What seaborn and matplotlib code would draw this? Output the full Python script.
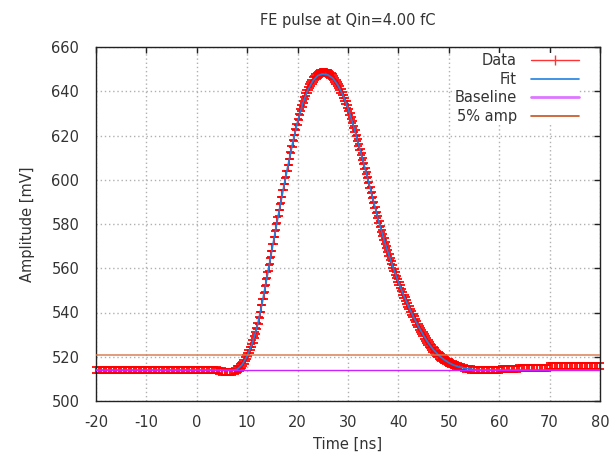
import numpy as np
import pandas as pd
import matplotlib
matplotlib.use("Agg")
import matplotlib.pyplot as plt
import seaborn as sns
from matplotlib.lines import Line2D

# ---------------- data ----------------
title = "FE pulse at Qin=4.00 fC"
x_label = "Time [ns]"
y_label = "Amplitude [mV]"
legend_labels = ["Data", "Fit", "Baseline", "5% amp"]
x_ticks = [-20, -10, 0, 10, 20, 30, 40, 50, 60, 70, 80]
y_ticks = [500, 520, 540, 560, 580, 600, 620, 640, 660]

# pre-pulse samples: -20 ns .. 7.5 ns every 0.5 ns
pre_t = np.arange(-20.0, 7.75, 0.5)
pre_v = [514.1, 514.1, 514.1, 514.1, 514.1, 514.1, 514.1, 514.1, 514.1, 514.1,
         514.1, 514.1, 514.1, 514.1, 514.1, 514.1, 514.1, 514.1, 514.1, 514.1,
         514.1, 514.1, 514.1, 514.1, 514.1, 514.1, 514.1, 514.1, 514.1, 514.1,
         514.1, 514.1, 514.1, 514.1, 514.1, 514.1, 514.1, 514.1, 514.1, 514.1,
         514.1, 514.1, 514.1, 514.1, 514.1, 514.1, 514.1, 514.1, 514.1,
         513.7, 513.3, 513.1, 513.1, 513.1, 513.2, 513.6]

# pulse samples: 8 ns .. 52 ns every 0.25 ns
pulse_t = np.arange(8.0, 52.1, 0.25)
pulse_v = [514.2, 514.6, 515.1, 515.7,
           516.4, 517.3, 518.3, 519.3,
           520.4, 521.7, 523.0, 524.5,
           526.0, 527.8, 529.7, 531.7,
           533.8, 536.4, 539.0, 541.8,
           544.6, 547.6, 550.6, 553.7,
           556.8, 560.0, 563.1, 566.3,
           569.4, 572.5, 575.6, 578.7,
           581.8, 584.8, 587.8, 590.8,
           593.8, 596.7, 599.6, 602.5,
           605.4, 608.2, 611.0, 613.7,
           616.4, 619.0, 621.5, 623.9,
           626.2, 628.4, 630.5, 632.5,
           634.4, 636.1, 637.7, 639.2,
           640.6, 641.8, 642.9, 643.9,
           644.9, 645.7, 646.4, 647.0,
           647.5, 647.9, 648.2, 648.4,
           648.5, 648.5, 648.4, 648.3,
           648.1, 647.7, 647.3, 646.8,
           646.3, 645.6, 644.8, 643.9,
           643.0, 641.9, 640.8, 639.6,
           638.4, 637.0, 635.5, 634.0,
           632.4, 630.6, 628.8, 626.9,
           625.0, 623.0, 621.0, 618.9,
           616.8, 614.7, 612.6, 610.5,
           608.4, 606.3, 604.1, 602.0,
           599.8, 597.6, 595.3, 593.1,
           590.8, 588.6, 586.4, 584.2,
           582.0, 579.9, 577.9, 575.9,
           574.0, 572.2, 570.4, 568.6,
           566.8, 565.1, 563.4, 561.7,
           560.0, 558.4, 556.9, 555.3,
           553.8, 552.3, 550.9, 549.4,
           548.0, 546.7, 545.4, 544.1,
           542.8, 541.6, 540.4, 539.2,
           538.0, 536.9, 535.8, 534.7,
           533.6, 532.6, 531.6, 530.6,
           529.6, 528.7, 527.8, 526.9,
           526.0, 525.2, 524.5, 523.7,
           523.0, 522.4, 521.8, 521.2,
           520.6, 520.1, 519.7, 519.2,
           518.8, 518.4, 518.1, 517.7,
           517.4, 517.1, 516.8, 516.6,
           516.3, 516.1, 515.9, 515.7,
           515.5]

# post-pulse samples: 52.5 ns .. 80 ns every 0.5 ns
post_t = np.arange(52.5, 80.25, 0.5)
post_v = [515.2, 514.9, 514.6, 514.4, 514.2, 514.0,
          513.9, 513.9, 513.9, 513.9, 513.9, 513.9, 513.9, 513.9, 513.9, 513.9,
          514.4, 514.4, 514.4, 514.4, 514.4, 514.4, 514.4,
          515.0, 515.0, 515.0, 515.0, 515.0, 515.0, 515.0, 515.0, 515.0, 515.0,
          515.0, 515.0,
          515.9, 515.9, 515.9, 515.9, 515.9, 515.9, 515.9, 515.9, 515.9, 515.9,
          515.9, 515.9, 515.9, 515.9, 515.9, 515.9, 515.9, 515.9, 515.9, 515.9,
          515.9]
data_err = 1.4

# fit curve: -20 ns .. 80 ns every 1 ns
fit_t = np.arange(-20, 81, 1)
fit_v = [514.0, 514.0, 514.0, 514.0, 514.0, 514.0, 514.0, 514.0, 514.0, 514.0,
         514.0, 514.0, 514.0, 514.0, 514.0, 514.0, 514.0, 514.0, 514.0, 514.0,
         514.0, 514.0, 514.0, 514.0, 514.0, 514.0, 514.0, 514.0,
         514.3, 516.4, 520.4, 526.0, 533.8, 544.6, 556.8, 569.4, 581.8, 593.8,
         605.4, 616.4, 626.2, 634.4, 640.4, 644.6, 647.1, 647.8, 647.4, 645.9,
         642.7, 638.2, 632.3, 625.0, 616.8, 608.4, 599.8, 590.8, 582.0, 574.0,
         566.8, 560.0, 553.8, 548.0, 542.8, 538.0, 533.6, 529.6, 526.0, 523.0,
         520.6, 518.8, 517.3, 516.2, 515.4,
         514.9, 514.5, 514.2, 514.0, 514.0, 514.0, 514.0, 514.0, 514.0, 514.0,
         514.0, 514.0, 514.0, 514.0, 514.0, 514.0, 514.0, 514.0, 514.0, 514.0,
         514.0, 514.0, 514.0, 514.0, 514.0, 514.0, 514.0, 514.0]

baseline = 513.9
five_pct = 520.6

# ---------------- styling ----------------
sns.set_style("white")
plt.rcParams["font.family"] = ["DejaVu Sans"]
FS = 10.5
TXT = "#333333"

data_t = np.concatenate([pre_t, pulse_t, post_t])
data_v = np.concatenate([pre_v, pulse_v, post_v])
fit_df = pd.DataFrame({"t": fit_t, "v": fit_v})

fig = plt.figure(figsize=(6.10, 4.54), dpi=100)
W, H = 610, 454
ax = fig.add_axes([96 / W, 53 / H, 504 / W, 354 / H])

# data with error bars
cont = ax.errorbar(data_t, data_v, yerr=data_err, fmt="none", ecolor="#ff0000",
                   elinewidth=1.5, capsize=2.6, capthick=1.4, alpha=0.9, zorder=2)
for art in list(cont.lines[1]) + list(cont.lines[2]):
    art.set_clip_on(False)

# fit
sns.lineplot(data=fit_df, x="t", y="v", ax=ax, color="#2080e0", lw=1.2,
             errorbar=None, zorder=3)

# baseline and 5% amplitude
ax.axhline(baseline, color="#cc22ff", lw=1.0, zorder=4)
ax.axhline(five_pct, color="#d8784a", lw=1.3, alpha=0.8, zorder=4)

ax.set_xlim(-20, 80)
ax.set_ylim(500, 660)
ax.set_xticks(x_ticks)
ax.set_yticks(y_ticks)
ax.set_xticklabels([str(v) for v in x_ticks])
ax.set_yticklabels([str(v) for v in y_ticks])

ax.grid(True, color="#b0b0b0", linestyle=(0, (1, 2)), linewidth=1.0)
ax.tick_params(direction="in", length=4, width=1, top=True, right=True,
               labelsize=FS, labelcolor=TXT, color="#222222")
ax.tick_params(axis="y", pad=12)
ax.tick_params(axis="x", pad=10)
for s in ax.spines.values():
    s.set_color("#222222")
    s.set_linewidth(1.0)

ax.set_xlabel(x_label, fontsize=FS, color=TXT, labelpad=5)
ax.set_ylabel(y_label, fontsize=FS, color=TXT, labelpad=12)
ax.set_title(title, fontsize=FS, color=TXT, pad=16)

handles = [
    Line2D([], [], color="#ff3333", lw=1.0, marker="|", markersize=7, markeredgewidth=1.0),
    Line2D([], [], color="#2080e0", lw=1.2),
    Line2D([], [], color="#dd77ff", lw=2.0),
    Line2D([], [], color="#c8501e", lw=1.2),
]
leg = ax.legend(handles, legend_labels, loc="upper right",
                bbox_to_anchor=((579 - 96) / 504, 1 - 6 / 354),
                markerfirst=False, frameon=True, facecolor="white",
                edgecolor="none", framealpha=1.0, fancybox=False,
                handlelength=3.3, handletextpad=0.95, labelspacing=0.25,
                borderpad=0.0, borderaxespad=0.0, fontsize=FS)
for t in leg.get_texts():
    t.set_color(TXT)
leg.set_zorder(5)

fig.savefig("out.png", dpi=100)
